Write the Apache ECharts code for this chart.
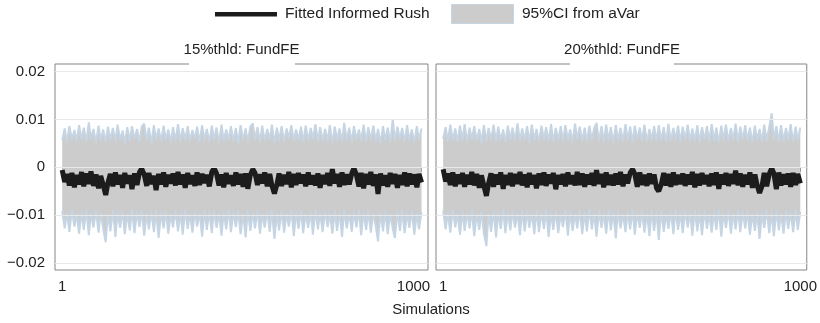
<!DOCTYPE html>
<html>
<head>
<meta charset="utf-8">
<script src="https://cdn.jsdelivr.net/npm/echarts@6/dist/echarts.min.js"></script>
<style>
  html, body { margin: 0; padding: 0; background: #fff; }
  #chart { width: 820px; height: 323px; }
</style>
</head>
<body>
<div id="chart"></div>
<script>
// Panel titles and axis ticks
const panelTitles = ['15%thld: FundFE', '20%thld: FundFE'];
const xTicks = [1, 1000];
const yTicks = [-0.02, -0.01, 0, 0.01, 0.02];

// 15% threshold: fitted informed rush and its 95% CI, sampled along the 1000 simulations
const fit15 = [
  -0.0006, -0.0031, -0.0014, -0.0038, -0.0012, -0.0042, -0.0016, -0.0036, -0.0010, -0.0040,
  -0.0013, -0.0035, -0.0009, -0.0039, -0.0015, -0.0044, -0.0018, -0.0037, -0.0058, -0.0033,
  -0.0014, -0.0040, -0.0011, -0.0036, -0.0016, -0.0043, -0.0012, -0.0034, -0.0017, -0.0046,
  -0.0013, -0.0037, -0.0010, -0.0003, -0.0015, -0.0039, -0.0012, -0.0035, -0.0018, -0.0048,
  -0.0014, -0.0036, -0.0011, -0.0041, -0.0016, -0.0034, -0.0013, -0.0038, -0.0010, -0.0036,
  -0.0015, -0.0043, -0.0012, -0.0035, -0.0017, -0.0039, -0.0011, -0.0037, -0.0014, -0.0033,
  -0.0016, -0.0040, -0.0010, -0.0002, -0.0013, -0.0038, -0.0015, -0.0042, -0.0012, -0.0035,
  -0.0017, -0.0039, -0.0011, -0.0036, -0.0014, -0.0041, -0.0013, -0.0045, -0.0016, -0.0004,
  -0.0012, -0.0037, -0.0015, -0.0034, -0.0011, -0.0040, -0.0014, -0.0038, -0.0055, -0.0036,
  -0.0013, -0.0039, -0.0016, -0.0035, -0.0010, -0.0042, -0.0014, -0.0037, -0.0012, -0.0034,
  -0.0015, -0.0040, -0.0011, -0.0036, -0.0017, -0.0038, -0.0013, -0.0043, -0.0016, -0.0035,
  -0.0012, -0.0039, -0.0004, -0.0034, -0.0014, -0.0041, -0.0011, -0.0037, -0.0015, -0.0036,
  -0.0013, -0.0002, -0.0016, -0.0040, -0.0012, -0.0044, -0.0014, -0.0036, -0.0010, -0.0039,
  -0.0015, -0.0056, -0.0013, -0.0038, -0.0017, -0.0041, -0.0012, -0.0035, -0.0014, -0.0043,
  -0.0016, -0.0037, -0.0011, -0.0040, -0.0013, -0.0036, -0.0015, -0.0042, -0.0014, -0.0032
];
const upper15 = [
  0.0056, 0.0081, 0.0052, 0.0086, 0.0058, 0.0078, 0.0054, 0.0088, 0.0057, 0.0083,
  0.0053, 0.0094, 0.0059, 0.0080, 0.0051, 0.0087, 0.0056, 0.0079, 0.0052, 0.0085,
  0.0058, 0.0082, 0.0054, 0.0089, 0.0057, 0.0077, 0.0050, 0.0084, 0.0055, 0.0086,
  0.0059, 0.0080, 0.0053, 0.0085, 0.0091, 0.0056, 0.0083, 0.0051, 0.0088, 0.0057,
  0.0081, 0.0054, 0.0087, 0.0058, 0.0079, 0.0052, 0.0084, 0.0056, 0.0090, 0.0053,
  0.0082, 0.0057, 0.0086, 0.0055, 0.0078, 0.0059, 0.0085, 0.0052, 0.0088, 0.0056,
  0.0080, 0.0053, 0.0087, 0.0058, 0.0083, 0.0051, 0.0089, 0.0055, 0.0079, 0.0057,
  0.0086, 0.0054, 0.0082, 0.0050, 0.0088, 0.0056, 0.0081, 0.0053, 0.0085, 0.0092,
  0.0058, 0.0084, 0.0052, 0.0087, 0.0055, 0.0080, 0.0057, 0.0089, 0.0051, 0.0083,
  0.0056, 0.0086, 0.0053, 0.0081, 0.0059, 0.0088, 0.0054, 0.0079, 0.0057, 0.0085,
  0.0052, 0.0087, 0.0055, 0.0082, 0.0058, 0.0090, 0.0053, 0.0084, 0.0056, 0.0080,
  0.0054, 0.0088, 0.0051, 0.0085, 0.0057, 0.0081, 0.0053, 0.0093, 0.0056, 0.0083,
  0.0052, 0.0086, 0.0058, 0.0079, 0.0055, 0.0089, 0.0053, 0.0084, 0.0057, 0.0087,
  0.0054, 0.0080, 0.0050, 0.0086, 0.0056, 0.0083, 0.0052, 0.0100, 0.0055, 0.0085,
  0.0058, 0.0082, 0.0053, 0.0088, 0.0056, 0.0079, 0.0052, 0.0086, 0.0057, 0.0081
];
const lower15 = [
  -0.0092, -0.0128, -0.0095, -0.0135, -0.0090, -0.0124, -0.0097, -0.0139, -0.0093, -0.0131,
  -0.0089, -0.0142, -0.0096, -0.0126, -0.0091, -0.0137, -0.0094, -0.0129, -0.0157, -0.0098,
  -0.0134, -0.0090, -0.0146, -0.0095, -0.0127, -0.0092, -0.0140, -0.0097, -0.0132, -0.0089,
  -0.0138, -0.0094, -0.0125, -0.0091, -0.0143, -0.0096, -0.0130, -0.0093, -0.0136, -0.0090,
  -0.0148, -0.0095, -0.0128, -0.0092, -0.0139, -0.0097, -0.0126, -0.0091, -0.0134, -0.0094,
  -0.0141, -0.0089, -0.0129, -0.0096, -0.0137, -0.0092, -0.0124, -0.0095, -0.0145, -0.0090,
  -0.0131, -0.0094, -0.0138, -0.0091, -0.0127, -0.0097, -0.0143, -0.0093, -0.0130, -0.0088,
  -0.0136, -0.0095, -0.0125, -0.0092, -0.0140, -0.0096, -0.0147, -0.0090, -0.0133, -0.0094,
  -0.0128, -0.0091, -0.0139, -0.0097, -0.0126, -0.0093, -0.0135, -0.0089, -0.0150, -0.0095,
  -0.0132, -0.0092, -0.0137, -0.0096, -0.0124, -0.0090, -0.0144, -0.0094, -0.0129, -0.0091,
  -0.0138, -0.0097, -0.0127, -0.0093, -0.0141, -0.0090, -0.0130, -0.0095, -0.0136, -0.0092,
  -0.0125, -0.0096, -0.0139, -0.0091, -0.0133, -0.0094, -0.0146, -0.0089, -0.0128, -0.0097,
  -0.0135, -0.0093, -0.0126, -0.0090, -0.0142, -0.0095, -0.0131, -0.0092, -0.0137, -0.0096,
  -0.0124, -0.0155, -0.0094, -0.0134, -0.0091, -0.0140, -0.0097, -0.0129, -0.0148, -0.0093,
  -0.0133, -0.0090, -0.0138, -0.0095, -0.0127, -0.0092, -0.0141, -0.0096, -0.0130, -0.0094
];

// 20% threshold
const fit20 = [
  -0.0004, -0.0030, -0.0013, -0.0037, -0.0011, -0.0040, -0.0015, -0.0035, -0.0012, -0.0041,
  -0.0016, -0.0036, -0.0010, -0.0038, -0.0014, -0.0043, -0.0017, -0.0039, -0.0060, -0.0034,
  -0.0013, -0.0041, -0.0015, -0.0036, -0.0011, -0.0045, -0.0016, -0.0037, -0.0012, -0.0040,
  -0.0014, -0.0035, -0.0010, -0.0038, -0.0015, -0.0042, -0.0012, -0.0036, -0.0016, -0.0044,
  -0.0013, -0.0037, -0.0011, -0.0039, -0.0015, -0.0034, -0.0012, -0.0046, -0.0016, -0.0036,
  -0.0014, -0.0040, -0.0011, -0.0035, -0.0017, -0.0038, -0.0010, -0.0037, -0.0013, -0.0041,
  -0.0015, -0.0036, -0.0012, -0.0039, -0.0006, -0.0035, -0.0014, -0.0042, -0.0011, -0.0037,
  -0.0016, -0.0038, -0.0013, -0.0036, -0.0010, -0.0040, -0.0015, -0.0034, -0.0012, -0.0004,
  -0.0014, -0.0041, -0.0011, -0.0037, -0.0016, -0.0039, -0.0013, -0.0035, -0.0015, -0.0044,
  -0.0050, -0.0036, -0.0012, -0.0038, -0.0014, -0.0041, -0.0011, -0.0037, -0.0016, -0.0035,
  -0.0013, -0.0039, -0.0015, -0.0036, -0.0010, -0.0042, -0.0014, -0.0038, -0.0012, -0.0035,
  -0.0016, -0.0040, -0.0013, -0.0037, -0.0011, -0.0045, -0.0015, -0.0036, -0.0012, -0.0039,
  -0.0014, -0.0035, -0.0007, -0.0038, -0.0013, -0.0041, -0.0016, -0.0036, -0.0011, -0.0043,
  -0.0015, -0.0037, -0.0054, -0.0039, -0.0012, -0.0040, -0.0014, -0.0002, -0.0013, -0.0046,
  -0.0011, -0.0038, -0.0015, -0.0036, -0.0013, -0.0041, -0.0012, -0.0037, -0.0014, -0.0034
];
const upper20 = [
  0.0059, 0.0084, 0.0054, 0.0089, 0.0057, 0.0081, 0.0052, 0.0087, 0.0056, 0.0090,
  0.0053, 0.0083, 0.0058, 0.0086, 0.0055, 0.0080, 0.0051, 0.0088, 0.0054, 0.0082,
  0.0057, 0.0089, 0.0053, 0.0085, 0.0056, 0.0079, 0.0052, 0.0087, 0.0058, 0.0083,
  0.0055, 0.0092, 0.0054, 0.0081, 0.0057, 0.0086, 0.0051, 0.0089, 0.0056, 0.0080,
  0.0053, 0.0087, 0.0058, 0.0084, 0.0055, 0.0090, 0.0052, 0.0082, 0.0057, 0.0086,
  0.0054, 0.0088, 0.0056, 0.0079, 0.0053, 0.0091, 0.0058, 0.0085, 0.0055, 0.0083,
  0.0052, 0.0087, 0.0057, 0.0081, 0.0093, 0.0055, 0.0086, 0.0053, 0.0089, 0.0056,
  0.0084, 0.0051, 0.0088, 0.0057, 0.0082, 0.0054, 0.0090, 0.0056, 0.0085, 0.0052,
  0.0087, 0.0058, 0.0083, 0.0055, 0.0089, 0.0053, 0.0080, 0.0057, 0.0086, 0.0054,
  0.0088, 0.0056, 0.0084, 0.0052, 0.0091, 0.0055, 0.0082, 0.0058, 0.0087, 0.0053,
  0.0085, 0.0057, 0.0089, 0.0054, 0.0081, 0.0056, 0.0088, 0.0052, 0.0084, 0.0058,
  0.0086, 0.0053, 0.0090, 0.0055, 0.0083, 0.0051, 0.0087, 0.0057, 0.0089, 0.0054,
  0.0082, 0.0056, 0.0091, 0.0053, 0.0085, 0.0058, 0.0088, 0.0055, 0.0083, 0.0052,
  0.0087, 0.0057, 0.0080, 0.0054, 0.0089, 0.0056, 0.0084, 0.0113, 0.0058, 0.0086,
  0.0053, 0.0088, 0.0055, 0.0082, 0.0057, 0.0090, 0.0052, 0.0085, 0.0056, 0.0083
];
const lower20 = [
  -0.0091, -0.0130, -0.0094, -0.0137, -0.0089, -0.0126, -0.0096, -0.0141, -0.0092, -0.0133,
  -0.0095, -0.0128, -0.0090, -0.0144, -0.0097, -0.0131, -0.0093, -0.0139, -0.0165, -0.0096,
  -0.0135, -0.0091, -0.0147, -0.0094, -0.0129, -0.0088, -0.0138, -0.0095, -0.0132, -0.0092,
  -0.0126, -0.0096, -0.0142, -0.0090, -0.0134, -0.0093, -0.0127, -0.0097, -0.0140, -0.0091,
  -0.0136, -0.0094, -0.0129, -0.0089, -0.0146, -0.0095, -0.0131, -0.0092, -0.0138, -0.0096,
  -0.0125, -0.0090, -0.0143, -0.0093, -0.0133, -0.0097, -0.0128, -0.0091, -0.0140, -0.0094,
  -0.0134, -0.0088, -0.0130, -0.0095, -0.0145, -0.0092, -0.0127, -0.0096, -0.0139, -0.0090,
  -0.0132, -0.0094, -0.0149, -0.0091, -0.0128, -0.0097, -0.0136, -0.0093, -0.0130, -0.0089,
  -0.0141, -0.0095, -0.0127, -0.0092, -0.0137, -0.0096, -0.0144, -0.0090, -0.0133, -0.0094,
  -0.0152, -0.0091, -0.0135, -0.0097, -0.0129, -0.0093, -0.0140, -0.0089, -0.0131, -0.0095,
  -0.0138, -0.0092, -0.0126, -0.0096, -0.0143, -0.0090, -0.0134, -0.0094, -0.0142, -0.0091,
  -0.0129, -0.0097, -0.0137, -0.0093, -0.0131, -0.0088, -0.0145, -0.0095, -0.0127, -0.0092,
  -0.0139, -0.0096, -0.0130, -0.0090, -0.0136, -0.0094, -0.0128, -0.0091, -0.0141, -0.0097,
  -0.0133, -0.0093, -0.0150, -0.0095, -0.0127, -0.0090, -0.0138, -0.0094, -0.0144, -0.0092,
  -0.0132, -0.0096, -0.0139, -0.0091, -0.0129, -0.0095, -0.0136, -0.0089, -0.0131, -0.0093
];

const panels = [
  { fit: fit15, upper: upper15, lower: lower15 },
  { fit: fit20, upper: upper20, lower: lower20 }
];

const FONT = "'Liberation Sans', Arial, Helvetica, sans-serif";
const TEXT = '#222222';
const FRAME = '#858585';
const CI_FILL = '#cccccc';
const CI_EDGE = '#c6d5e4';
const FIT = '#1c1c1c';

// simulation number for each stored point (points spread evenly over 1..1000)
function simAt(i, n) { return 1 + Math.round(i * 999 / (n - 1)); }

function fmtY(v) {
  if (v === 0) return '0';
  const s = Math.abs(v).toFixed(2);
  return v < 0 ? '\u2212' + s : s;
}

const grids = [
  { left: 55, top: 64, width: 373, height: 206 },
  { left: 436, top: 64, width: 372, height: 206 }
].map(g => Object.assign(g, { show: true, borderColor: FRAME, borderWidth: 1, backgroundColor: '#fff' }));

const labelFont = { color: TEXT, fontSize: 15, fontFamily: FONT };

const xAxes = grids.map((g, p) => ({
  type: 'value', gridIndex: p, min: -19, max: 1018,
  axisLine: { show: false },
  splitLine: { show: false },
  axisTick: { show: true, length: 5, lineStyle: { color: FRAME }, customValues: xTicks },
  axisLabel: Object.assign({}, labelFont, {
    margin: 9, customValues: xTicks,
    // the left panel's last label leans left to stay clear of the right panel's first one
    formatter: v => (p === 0 && v === xTicks[xTicks.length - 1]) ? '{lean|' + v + '}' : String(v),
    rich: { lean: Object.assign({}, labelFont, { padding: [0, 16, 0, 0] }) }
  })
}));

const yAxes = grids.map((g, p) => ({
  type: 'value', gridIndex: p, min: -0.0215, max: 0.0216,
  axisLine: { show: false },
  splitLine: { show: false },
  axisTick: { show: p === 0, length: 5, lineStyle: { color: FRAME }, customValues: yTicks },
  axisLabel: Object.assign({ show: p === 0, margin: 10, customValues: yTicks, formatter: fmtY }, labelFont)
}));

// Rows are [value, simulation]: the value column comes first so that
// stacking accumulates along y.
const ENC = { x: 1, y: 0 };

const series = [];
panels.forEach((pd, p) => {
  const n = pd.fit.length;
  const lowerRows = pd.lower.map((v, i) => [v, simAt(i, n)]);
  const widthRows = pd.upper.map((v, i) => [v - pd.lower[i], simAt(i, n)]);
  const fitRows = pd.fit.map((v, i) => [v, simAt(i, n)]);
  const base = { type: 'line', xAxisIndex: p, yAxisIndex: p, showSymbol: false, symbol: 'none',
                 silent: true, animation: false, encode: ENC };
  // stack base: lower CI bound (invisible), also hosts the horizontal grid lines
  series.push(Object.assign({}, base, {
    name: 'ciBase' + p, data: lowerRows, stack: 'ci' + p, stackStrategy: 'all', z: 1,
    lineStyle: { opacity: 0 },
    markLine: {
      silent: true, symbol: ['none', 'none'], label: { show: false }, animation: false,
      lineStyle: { color: '#e9e9e9', type: 'solid', width: 1 },
      data: yTicks.map(v => ({ yAxis: v }))
    }
  }));
  // CI band from lower to upper bound
  series.push(Object.assign({}, base, {
    name: '95%CI from aVar', data: widthRows, stack: 'ci' + p, stackStrategy: 'all', z: 2,
    areaStyle: { color: CI_FILL, opacity: 1 },
    lineStyle: { color: CI_EDGE, width: 2 }
  }));
  // lower edge outline of the band
  series.push(Object.assign({}, base, {
    name: 'ciLower' + p, data: lowerRows, z: 3,
    lineStyle: { color: CI_EDGE, width: 2 }
  }));
  // fitted informed rush
  series.push(Object.assign({}, base, {
    name: 'Fitted Informed Rush', data: fitRows, z: 4,
    lineStyle: { color: FIT, width: 5 }
  }));
});

const textStyle = { fill: TEXT, font: '15px ' + FONT };
const legendText = { fill: TEXT, font: '15.5px ' + FONT };
const graphic = [
  // legend
  { type: 'rect', shape: { x: 215, y: 12, width: 62, height: 4.5 }, style: { fill: FIT } },
  { type: 'text', x: 285, y: 14, style: Object.assign({ text: 'Fitted Informed Rush', verticalAlign: 'middle' }, legendText) },
  { type: 'rect', shape: { x: 451.5, y: 4.5, width: 62, height: 19 }, style: { fill: CI_FILL, stroke: CI_EDGE, lineWidth: 1 } },
  { type: 'text', x: 522, y: 14, style: Object.assign({ text: '95%CI from aVar', verticalAlign: 'middle' }, legendText) },
  // gaps in the top frame behind the panel titles
  { type: 'rect', z: 100, shape: { x: 189, y: 62, width: 106, height: 4 }, style: { fill: '#fff' } },
  { type: 'rect', z: 100, shape: { x: 570, y: 62, width: 104, height: 4 }, style: { fill: '#fff' } },
  // panel titles
  { type: 'text', z: 101, x: 241.5, y: 50, style: Object.assign({ text: panelTitles[0], align: 'center', verticalAlign: 'middle' }, textStyle) },
  { type: 'text', z: 101, x: 622, y: 50, style: Object.assign({ text: panelTitles[1], align: 'center', verticalAlign: 'middle' }, textStyle) },
  // shared x-axis title
  { type: 'text', x: 431, y: 310, style: Object.assign({ text: 'Simulations', align: 'center', verticalAlign: 'middle' }, textStyle) }
];

const chart = echarts.init(document.getElementById('chart'), null, { renderer: 'canvas' });
chart.setOption({
  animation: false,
  backgroundColor: '#fff',
  grid: grids,
  xAxis: xAxes,
  yAxis: yAxes,
  series: series,
  graphic: graphic
});
</script>
</body>
</html>
